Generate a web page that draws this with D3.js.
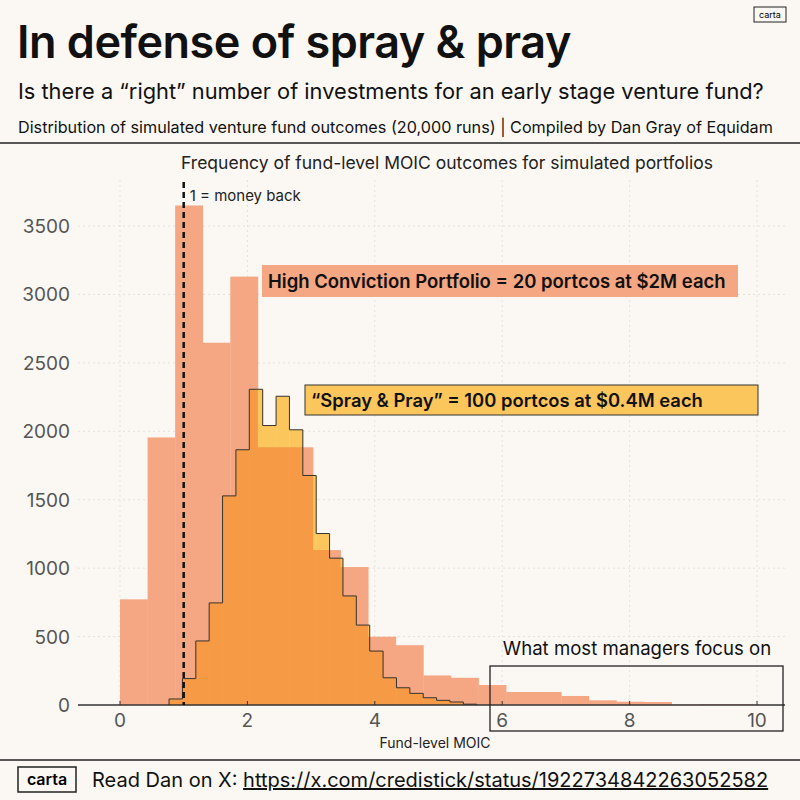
<!DOCTYPE html>
<html>
<head>
<meta charset="utf-8">
<script src="https://cdn.jsdelivr.net/npm/d3@7"></script>
<style>
  body { margin: 0; background: #fbf8f3; }
  text { font-family: Inter, "Open Sans", sans-serif; }
</style>
</head>
<body>
<svg id="chart" width="800" height="800"></svg>
<script>
// High conviction: 20 portcos at $2M, bins of width 0.433 from 0
var hcBinWidth = 0.433,
  hcCounts = [772, 1955, 3650, 2647, 3130, 1883, 1883, 1132, 1008, 499, 437, 216, 199, 146, 95, 95, 66, 34, 24, 22, 3, 5, 5],
  // Spray & pray: 100 portcos at $0.4M, bins of width 0.21 from 0.77
  spStart = 0.77,
  spBinWidth = 0.21,
  spCounts = [44, 193, 468, 746, 1528, 1865, 2307, 2042, 2256, 2011, 1677, 1253, 1073, 797, 584, 394, 199, 126, 85, 53, 34, 22, 6],
  xTicks = [0, 2, 4, 6, 8, 10],
  yTicks = [0, 500, 1000, 1500, 2000, 2500, 3000, 3500];

var svg = d3.select("#chart"),
  bg = "#fbf8f3",
  hcColor = "#f5a682",
  spColor = "#fbc65c",
  overlapColor = "#f69a45",
  x = d3.scaleLinear().domain([0, 10]).range([120, 757]),
  y = d3.scaleLinear().domain([0, 3500]).range([705, 226]),
  hcData = hcCounts.map(function(c, i) {
    return {x0: i * hcBinWidth, x1: (i + 1) * hcBinWidth, n: c};
  }),
  spData = spCounts.map(function(c, i) {
    return {x0: spStart + i * spBinWidth, x1: spStart + (i + 1) * spBinWidth, n: c};
  });

svg.append("rect").attr("width", 800).attr("height", 800).attr("fill", bg);

// header
svg.append("text").attr("x", 17).attr("y", 58).attr("font-size", 45).attr("font-weight", 600)
  .attr("fill", "#111").attr("letter-spacing", -0.5).text("In defense of spray & pray");
svg.append("text").attr("x", 18).attr("y", 99).attr("font-size", 21.8).attr("fill", "#111")
  .text("Is there a \u201cright\u201d number of investments for an early stage venture fund?");
svg.append("text").attr("x", 18).attr("y", 133).attr("font-size", 16.2).attr("fill", "#111")
  .text("Distribution of simulated venture fund outcomes (20,000 runs) | Compiled by Dan Gray of Equidam");
svg.append("line").attr("x1", 0).attr("x2", 800).attr("y1", 143).attr("y2", 143).attr("stroke", "#222").attr("stroke-width", 1.5);
svg.append("rect").attr("x", 754).attr("y", 7).attr("width", 32).attr("height", 15).attr("fill", "none").attr("stroke", "#222");
svg.append("text").attr("x", 770).attr("y", 18).attr("font-size", 9).attr("text-anchor", "middle").text("carta");

svg.append("text").attr("x", 447).attr("y", 169).attr("font-size", 17.5).attr("text-anchor", "middle").attr("fill", "#222")
  .text("Frequency of fund-level MOIC outcomes for simulated portfolios");

// grid
var grid = svg.append("g").attr("stroke", "#e6e1da").attr("stroke-dasharray", "2,3");
grid.selectAll(".gy").data(yTicks.slice(1)).join("line")
  .attr("x1", 78).attr("x2", 785).attr("y1", y).attr("y2", y);
grid.selectAll(".gx").data(xTicks).join("line")
  .attr("x1", x).attr("x2", x).attr("y1", 180).attr("y2", 705);

// high conviction bars
var defs = svg.append("defs"),
  clip = defs.append("clipPath").attr("id", "hcClip");
clip.selectAll("rect").data(hcData).join("rect")
  .attr("x", function(d) { return x(d.x0); })
  .attr("width", function(d) { return x(d.x1) - x(d.x0); })
  .attr("y", function(d) { return y(d.n); })
  .attr("height", function(d) { return y(0) - y(d.n); });

svg.append("g").selectAll("rect").data(hcData).join("rect")
  .attr("x", function(d) { return x(d.x0); })
  .attr("width", function(d) { return x(d.x1) - x(d.x0) + 0.3; })
  .attr("y", function(d) { return y(d.n); })
  .attr("height", function(d) { return y(0) - y(d.n); })
  .attr("fill", hcColor);

// spray & pray bars, overlap in orange
var spG = svg.append("g");
spG.selectAll("rect").data(spData).join("rect")
  .attr("x", function(d) { return x(d.x0); })
  .attr("width", function(d) { return x(d.x1) - x(d.x0) + 0.3; })
  .attr("y", function(d) { return y(d.n); })
  .attr("height", function(d) { return y(0) - y(d.n); })
  .attr("fill", spColor);
svg.append("g").attr("clip-path", "url(#hcClip)").selectAll("rect").data(spData).join("rect")
  .attr("x", function(d) { return x(d.x0); })
  .attr("width", function(d) { return x(d.x1) - x(d.x0) + 0.3; })
  .attr("y", function(d) { return y(d.n); })
  .attr("height", function(d) { return y(0) - y(d.n); })
  .attr("fill", overlapColor);

var stepPts = spData.map(function(d) { return [d.x0, d.n]; });
stepPts.unshift([spStart, 0]);
stepPts.push([spStart + spCounts.length * spBinWidth, 0]);
svg.append("path")
  .attr("d", d3.line().x(function(d) { return x(d[0]); }).y(function(d) { return y(d[1]); }).curve(d3.curveStepAfter)(stepPts))
  .attr("fill", "none").attr("stroke", "#333").attr("stroke-width", 1);

// axes
svg.append("line").attr("x1", 78).attr("x2", 785).attr("y1", y(0)).attr("y2", y(0)).attr("stroke", "#333").attr("stroke-width", 1.5);
svg.selectAll(".xt").data(xTicks).join("line")
  .attr("x1", x).attr("x2", x).attr("y1", y(0)).attr("y2", y(0) - 4).attr("stroke", "#333");
svg.selectAll(".xl").data(xTicks).join("text")
  .attr("x", x).attr("y", 727).attr("text-anchor", "middle").attr("font-size", 19).attr("fill", "#555")
  .text(function(d) { return d; });
svg.selectAll(".yl").data(yTicks).join("text")
  .attr("x", 70).attr("y", function(d) { return y(d) + 7; }).attr("text-anchor", "end").attr("font-size", 19).attr("fill", "#555")
  .text(function(d) { return d; });
svg.append("text").attr("x", 435).attr("y", 748).attr("text-anchor", "middle").attr("font-size", 14).attr("fill", "#222").text("Fund-level MOIC");

// money back line
svg.append("line").attr("x1", x(1)).attr("x2", x(1)).attr("y1", 182).attr("y2", y(0))
  .attr("stroke", "#111").attr("stroke-width", 2.5).attr("stroke-dasharray", "6,4");
svg.append("text").attr("x", x(1) + 6).attr("y", 201).attr("font-size", 15).attr("fill", "#222").text("1 = money back");

// annotations
svg.append("rect").attr("x", 262).attr("y", 265).attr("width", 476).attr("height", 32).attr("fill", hcColor);
svg.append("text").attr("x", 268).attr("y", 288).attr("font-size", 18.5).attr("font-weight", 600).attr("fill", "#111")
  .text("High Conviction Portfolio = 20 portcos at $2M each");
svg.append("rect").attr("x", 305).attr("y", 385).attr("width", 453).attr("height", 30).attr("fill", spColor).attr("stroke", "#333");
svg.append("text").attr("x", 311).attr("y", 407).attr("font-size", 18.4).attr("font-weight", 600).attr("fill", "#111")
  .text("\u201cSpray & Pray\u201d = 100 portcos at $0.4M each");
svg.append("text").attr("x", 637).attr("y", 655).attr("text-anchor", "middle").attr("font-size", 18.6).attr("fill", "#111")
  .text("What most managers focus on");
svg.append("rect").attr("x", 490).attr("y", 666).attr("width", 293).attr("height", 65).attr("fill", "none").attr("stroke", "#222").attr("stroke-width", 1.3);

// footer
svg.append("line").attr("x1", 0).attr("x2", 800).attr("y1", 760).attr("y2", 760).attr("stroke", "#222").attr("stroke-width", 1.5);
svg.append("rect").attr("x", 18).attr("y", 767).attr("width", 58).attr("height", 25).attr("fill", "none").attr("stroke", "#222").attr("stroke-width", 1.5);
svg.append("text").attr("x", 47).attr("y", 785).attr("text-anchor", "middle").attr("font-size", 16).attr("font-weight", 600).text("carta");
var foot = svg.append("text").attr("x", 92).attr("y", 787).attr("font-size", 20).attr("fill", "#111");
foot.append("tspan").text("Read Dan on X: ");
foot.append("tspan").attr("text-decoration", "underline").text("https://x.com/credistick/status/1922734842263052582");
</script>
</body>
</html>
